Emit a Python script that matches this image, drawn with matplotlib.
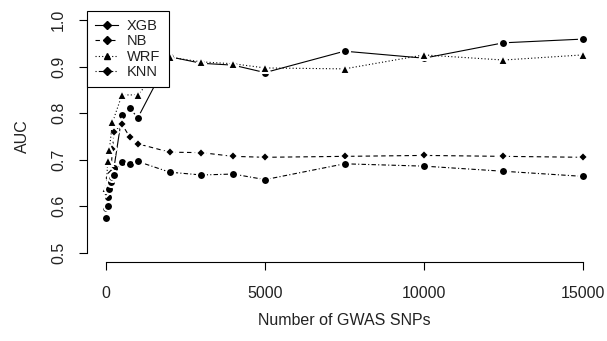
import matplotlib
matplotlib.use("Agg")
import matplotlib.pyplot as plt
from matplotlib.lines import Line2D

plt.rcParams['font.family'] = ['Liberation Sans', 'DejaVu Sans']

# number of GWAS SNPs used
snps = [10, 50, 100, 150, 200, 250, 500, 750, 1000, 2000, 3000, 4000, 5000, 7500, 10000, 12500, 15000]
snps_wrf = [10, 50, 100, 200, 500, 1000, 2000, 3000, 4000, 5000, 7500, 10000, 12500, 15000]

auc_xgb = [0.575, 0.620, 0.640, 0.655, 0.665, 0.683, 0.795, 0.810, 0.790, 0.921, 0.907, 0.903, 0.887, 0.933, 0.918, 0.951, 0.959]
auc_nb = [0.630, 0.645, 0.660, 0.672, 0.722, 0.760, 0.776, 0.748, 0.734, 0.716, 0.715, 0.707, 0.705, 0.707, 0.709, 0.707, 0.705]
auc_wrf = [0.640, 0.697, 0.720, 0.780, 0.839, 0.839, 0.920, 0.910, 0.906, 0.897, 0.895, 0.925, 0.914, 0.925]
auc_knn = [0.597, 0.600, 0.636, 0.651, 0.662, 0.668, 0.695, 0.691, 0.696, 0.673, 0.667, 0.669, 0.657, 0.691, 0.686, 0.675, 0.664]

fig = plt.figure(figsize=(6.07, 3.41), dpi=100)
ax = fig.add_axes([87/607, 1 - 262/341, (602 - 87)/607, (262 - 10.7)/341])

lw = 0.8
txt = '#222222'
# line first, then points with a white halo so the line looks broken (R type="b")
ax.plot(snps, auc_xgb, color='black', lw=lw, ls='-')
ax.plot(snps, auc_xgb, ls='none', marker='o', ms=6.5, mfc='black', mec='white', mew=1.5)

ax.plot(snps, auc_nb, color='black', lw=lw, ls=(0, (4, 3)))
ax.plot(snps, auc_nb, ls='none', marker='D', ms=5, mfc='black', mec='white', mew=1.5)

ax.plot(snps_wrf, auc_wrf, color='black', lw=lw, ls=(0, (1, 2)))
ax.plot(snps_wrf, auc_wrf, ls='none', marker='^', ms=7, mfc='black', mec='white', mew=1.5)

ax.plot(snps, auc_knn, color='black', lw=lw, ls=(0, (1, 2, 4, 2)))
ax.plot(snps, auc_knn, ls='none', marker='o', ms=6.5, mfc='black', mec='white', mew=1.5)

ax.set_xlim(-600, 15600)
ax.set_ylim(0.48, 1.02)

for s in ['top', 'right']:
    ax.spines[s].set_visible(False)
ax.spines['left'].set_bounds(0.5, 1.0)
ax.spines['bottom'].set_bounds(0, 15000)
ax.spines['left'].set_linewidth(0.8)
ax.spines['bottom'].set_linewidth(0.8)

ax.set_xticks([0, 5000, 10000, 15000])
ax.set_yticks([0.5, 0.6, 0.7, 0.8, 0.9, 1.0])
ax.set_yticklabels(['0.5', '0.6', '0.7', '0.8', '0.9', '1.0'], rotation=90, va='center')
ax.tick_params(axis='both', length=6, width=0.8, labelsize=11.5, colors='black', labelcolor=txt)
ax.tick_params(axis='x', pad=11)
ax.tick_params(axis='y', pad=9)

ax.set_xlabel("Number of GWAS SNPs", fontsize=11.5, labelpad=9, color=txt)
ax.set_ylabel("AUC", fontsize=11.5, labelpad=15, color=txt)

handles = [
    Line2D([], [], color='black', lw=lw, ls='-', marker='D', ms=4),
    Line2D([], [], color='black', lw=lw, ls=(0, (4, 3)), marker='D', ms=4),
    Line2D([], [], color='black', lw=lw, ls=(0, (1, 2)), marker='^', ms=5),
    Line2D([], [], color='black', lw=lw, ls=(0, (1, 2, 4, 2)), marker='D', ms=4),
]
leg = ax.legend(handles, ['XGB', 'NB', 'WRF', 'KNN'], loc='upper left',
                bbox_to_anchor=(0, 1), borderaxespad=0, fontsize=10.5,
                frameon=True, fancybox=False, framealpha=1, edgecolor='black',
                handlelength=1.6, handletextpad=0.6, labelspacing=0.1,
                borderpad=0.55)
for t in leg.get_texts():
    t.set_color(txt)
leg.get_frame().set_linewidth(0.8)
leg.set_zorder(5)

fig.savefig("out.png", dpi=100)
